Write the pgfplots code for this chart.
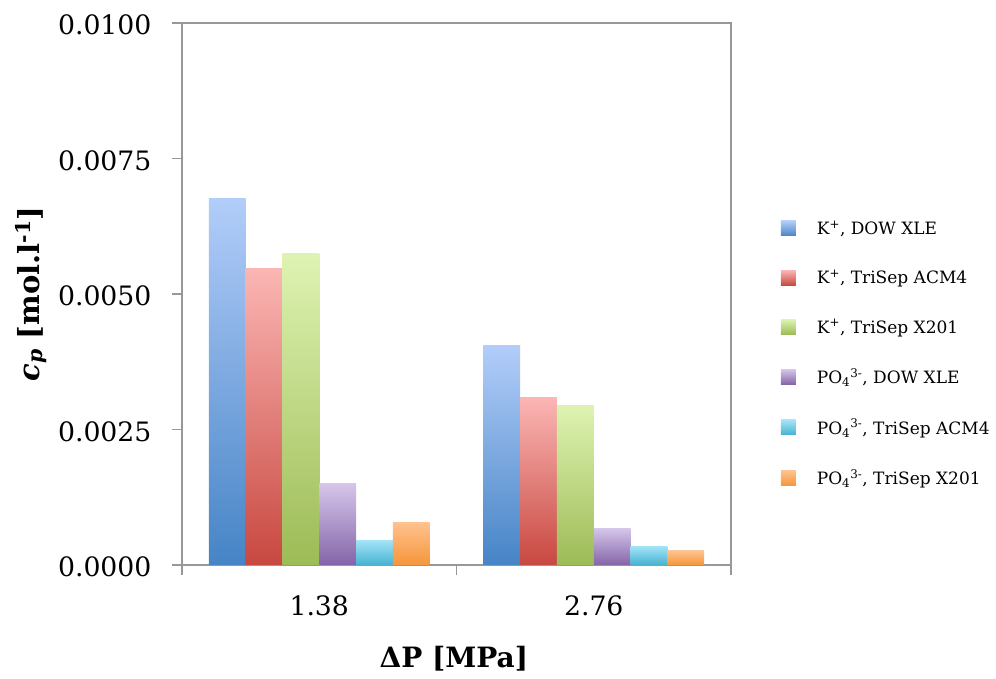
\documentclass[border=0pt]{standalone}
\usepackage{fontspec}
\setmainfont{DejaVu Serif}
\usepackage{pgfplots}
\pgfplotsset{compat=1.18}
\definecolor{axgray}{RGB}{152,152,152}
\definecolor{bT}{RGB}{178,205,249}\definecolor{bB}{RGB}{70,132,198}
\definecolor{rT}{RGB}{251,182,180}\definecolor{rB}{RGB}{200,72,64}
\definecolor{gT}{RGB}{222,243,178}\definecolor{gB}{RGB}{157,187,86}
\definecolor{pT}{RGB}{214,198,234}\definecolor{pB}{RGB}{132,100,168}
\definecolor{cT}{RGB}{164,228,249}\definecolor{cB}{RGB}{70,178,208}
\definecolor{oT}{RGB}{255,194,144}\definecolor{oB}{RGB}{245,150,58}
\begin{document}
\begin{tikzpicture}
\path[use as bounding box] (0pt,0pt) rectangle (996pt,679pt);
\begin{axis}[
  at={(182pt,114pt)}, anchor=south west,
  scale only axis, width=549pt, height=542pt,
  xmin=0, xmax=2, ymin=0, ymax=0.01,
  ybar, bar width=0.134,
  axis line style={axgray, line width=1.5pt},
  every tick/.style={axgray, line width=1.5pt},
  tick align=outside, xtick pos=bottom, ytick pos=left,
  xtick={0.5,1.5}, xticklabels={1.38,2.76}, major x tick style={draw=none},
  minor xtick={0,1,2}, minor tick length=10pt,
  ytick={0,0.0025,0.005,0.0075,0.01}, major tick length=10pt,
  scaled y ticks=false,
  yticklabel style={xshift=-17pt, yshift=-2pt, /pgf/number format/.cd, fixed, fixed zerofill, precision=4, assume math mode=true},
  xticklabel style={yshift=-17pt, /pgf/number format/assume math mode=true},
  tick label style={font=\fontsize{26.7}{30}\selectfont},
  ylabel={\textbf{\textit{c}\textsubscript{\textit{p}} [mol.l\textsuperscript{-1}]}},
  ylabel style={at={(axis description cs:-0.275,0.5)}, anchor=center, font=\fontsize{29}{32}\selectfont},
  xlabel={\textbf{ΔP [MPa]}},
  xlabel style={at={(axis description cs:0.495,-0.172)}, anchor=center, font=\fontsize{28}{32}\selectfont},
  legend image code/.code={\path[#1, draw=none] (0pt,-7.5pt) rectangle (15pt,7.5pt);},
  legend cell align=left,
  legend style={draw=none, fill=none, at={(axis description cs:1.085,0.39)}, anchor=west,
     font=\fontsize{17}{20}\selectfont, row sep=28pt, column sep=18pt,
     nodes={inner sep=3pt}},
  clip=false,
]
% group 1.38 MPa
\addplot[draw=none, top color=bT, bottom color=bB, bar shift=-0.335] coordinates {(0.5,0.00676)};
\addplot[draw=none, top color=rT, bottom color=rB, bar shift=-0.201] coordinates {(0.5,0.00547)};
\addplot[draw=none, top color=gT, bottom color=gB, bar shift=-0.067] coordinates {(0.5,0.00575)};
\addplot[draw=none, top color=pT, bottom color=pB, bar shift=0.067] coordinates {(0.5,0.00151)};
\addplot[draw=none, top color=cT, bottom color=cB, bar shift=0.201] coordinates {(0.5,0.00046)};
\addplot[draw=none, top color=oT, bottom color=oB, bar shift=0.335] coordinates {(0.5,0.00079)};
% group 2.76 MPa
\addplot[forget plot, draw=none, top color=bT, bottom color=bB, bar shift=-0.335] coordinates {(1.5,0.00405)};
\addplot[forget plot, draw=none, top color=rT, bottom color=rB, bar shift=-0.201] coordinates {(1.5,0.00309)};
\addplot[forget plot, draw=none, top color=gT, bottom color=gB, bar shift=-0.067] coordinates {(1.5,0.00295)};
\addplot[forget plot, draw=none, top color=pT, bottom color=pB, bar shift=0.067] coordinates {(1.5,0.00068)};
\addplot[forget plot, draw=none, top color=cT, bottom color=cB, bar shift=0.201] coordinates {(1.5,0.00035)};
\addplot[forget plot, draw=none, top color=oT, bottom color=oB, bar shift=0.335] coordinates {(1.5,0.00026)};
\legend{{K\textsuperscript{+}, DOW XLE}, {K\textsuperscript{+}, TriSep ACM4}, {K\textsuperscript{+}, TriSep X201},
  {PO\textsubscript{4}\textsuperscript{3-}, DOW XLE}, {PO\textsubscript{4}\textsuperscript{3-}, TriSep ACM4}, {PO\textsubscript{4}\textsuperscript{3-}, TriSep X201}}
\end{axis}
\end{tikzpicture}
\end{document}
